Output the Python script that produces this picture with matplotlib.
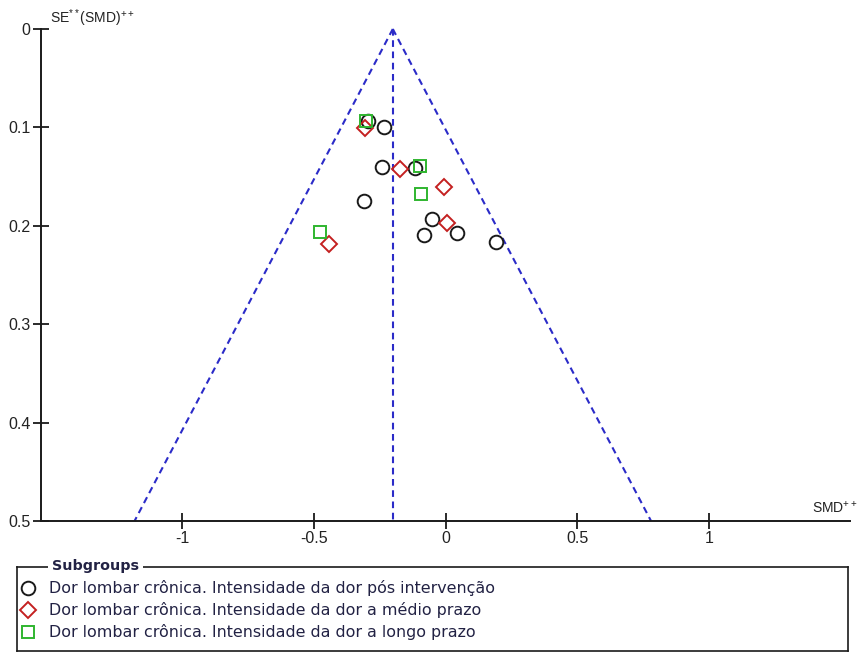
import matplotlib
matplotlib.use("Agg")
import matplotlib.pyplot as plt
import numpy as np

plt.rcParams["mathtext.fontset"] = "custom"
plt.rcParams["mathtext.rm"] = "Liberation Sans"
plt.rcParams["mathtext.it"] = "Liberation Sans"
plt.rcParams["mathtext.default"] = "regular"

# Study effects (SMD) and standard errors per subgroup
post_smd = [-0.295, -0.234, -0.240, -0.114, -0.310, -0.050, -0.080, 0.042, 0.190]
post_se = [0.094, 0.100, 0.140, 0.141, 0.175, 0.193, 0.209, 0.207, 0.216]

mid_smd = [-0.304, -0.173, -0.004, 0.004, -0.443]
mid_se = [0.101, 0.142, 0.161, 0.197, 0.219]

long_smd = [-0.300, -0.095, -0.092, -0.477]
long_se = [0.094, 0.139, 0.168, 0.206]

pooled_smd = -0.20
se_max = 0.5

subgroup_labels = [
    "Dor lombar crônica. Intensidade da dor pós intervenção",
    "Dor lombar crônica. Intensidade da dor a médio prazo",
    "Dor lombar crônica. Intensidade da dor a longo prazo",
]
x_ticks = [-1, -0.5, 0, 0.5, 1]
x_tick_labels = ["-1", "-0.5", "0", "0.5", "1"]
y_ticks = [0, 0.1, 0.2, 0.3, 0.4, 0.5]
y_tick_labels = ["0", "0.1", "0.2", "0.3", "0.4", "0.5"]

W, H = 859, 653
fig = plt.figure(figsize=(W / 100, H / 100), dpi=100)


def fx(px):
    return px / W


def fy(py):
    return 1 - py / H


left, right, top, bottom = 41, 850, 29, 521
ax = fig.add_axes([fx(left), fy(bottom), fx(right) - fx(left), fy(top) - fy(bottom)])
ax.set_xlim(-1.535, 1.535)
ax.set_ylim(se_max, 0)

# Funnel: pseudo 95% limits around the pooled estimate
funnel_color = "#2b2bc8"
dash = (0, (3.2, 2.2))
se_line = np.array([0, se_max])
ax.plot(pooled_smd - 1.96 * se_line, se_line, color=funnel_color, lw=1.5,
        ls=dash, clip_on=False, zorder=2)
ax.plot(pooled_smd + 1.96 * se_line, se_line, color=funnel_color, lw=1.5,
        ls=dash, clip_on=False, zorder=2)
ax.plot([pooled_smd, pooled_smd], [0, se_max], color=funnel_color, lw=1.5,
        ls=dash, clip_on=False, zorder=2)

circle_style = dict(marker="o", ms=9.8, mfc="none", mec="#1a1a1a", mew=1.4, ls="none")
diamond_style = dict(marker="D", ms=8.5, mfc="none", mec="#c42020", mew=1.4, ls="none")
square_style = dict(marker="s", ms=8.8, mfc="none", mec="#2fb52f", mew=1.4, ls="none")

ax.plot(post_smd, post_se, zorder=3, **circle_style)
ax.plot(mid_smd, mid_se, zorder=4, **diamond_style)
ax.plot(long_smd, long_se, zorder=5, **square_style)

for s in ["top", "right"]:
    ax.spines[s].set_visible(False)
for s in ["left", "bottom"]:
    ax.spines[s].set_linewidth(1.4)
    ax.spines[s].set_color("#1a1a1a")

ax.set_xticks(x_ticks)
ax.set_xticklabels(x_tick_labels)
ax.set_yticks(y_ticks)
ax.set_yticklabels(y_tick_labels)
ax.tick_params(axis="x", direction="inout", length=12, width=1.3, pad=1.5,
               labelsize=11.5, labelcolor="#222222", color="#1a1a1a")
ax.tick_params(axis="y", direction="inout", length=12, width=1.3, pad=1.5,
               labelsize=11.5, labelcolor="#222222", color="#1a1a1a")
for lab in ax.get_xticklabels() + ax.get_yticklabels():
    lab.set_fontfamily("Liberation Sans")

fig.text(fx(50), fy(23), r"SE$^{**}$(SMD)$^{++}$", fontsize=10, family="Liberation Sans",
         color="#222222", ha="left", va="baseline")
fig.text(fx(858), fy(513), r"SMD$^{++}$", fontsize=10, family="Liberation Sans",
         color="#222222", ha="right", va="baseline")

# Subgroup legend panel
lx0, lx1, ly0, ly1 = 17, 848, 567, 651
lax = fig.add_axes([fx(lx0), fy(ly1), fx(lx1) - fx(lx0), fy(ly0) - fy(ly1)])
lax.set_xlim(lx0, lx1)
lax.set_ylim(ly1, ly0)
lax.set_xticks([])
lax.set_yticks([])
for s in lax.spines.values():
    s.set_linewidth(1.2)
    s.set_color("#1a1a1a")
lax.patch.set_alpha(0)
lax.text(52, ly0 - 1, "Subgroups", fontsize=10.3, fontweight="bold", family="DejaVu Sans",
         color="#222244", ha="left", va="center",
         bbox=dict(facecolor="white", edgecolor="none", pad=3), clip_on=False)

row_y = [588, 609.5, 632]
styles = [circle_style, diamond_style, square_style]
for yy, st, lab in zip(row_y, styles, subgroup_labels):
    lax.plot([28], [yy], clip_on=False, **st)
    lax.text(49, yy, lab, fontsize=11.4, family="DejaVu Sans", color="#222244",
             ha="left", va="center")

fig.savefig("out.png", dpi=100, facecolor="white")
